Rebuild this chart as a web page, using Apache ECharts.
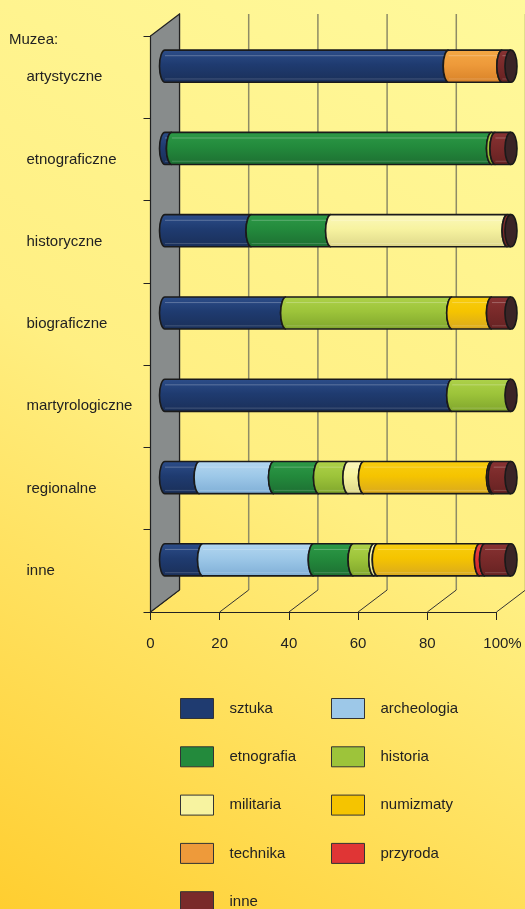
<!DOCTYPE html>
<html><head><meta charset="utf-8">
<script src="https://cdn.jsdelivr.net/npm/echarts@6/dist/echarts.min.js"></script>
<style>html,body{margin:0;padding:0;}#c{width:525px;height:909px;}</style>
</head><body><div id="c"></div>
<script>
const categories = ['artystyczne','etnograficzne','historyczne','biograficzne','martyrologiczne','regionalne','inne'];
const xTicks = [0, 20, 40, 60, 80, 100];
const sztuka      = [82,  2,    25, 35,   83, 10,   11];
const archeologia = [0,   0,    0,  0,    0,  21.5, 32];
const etnografia  = [0,   92.5, 23, 0,    0,  13,   11.5];
const historia    = [0,   1,    0,  48,   17, 8.5,  6];
const militaria   = [0,   0,    51, 0,    0,  4.5,  1];
const numizmaty   = [0,   0,    0,  11.5, 0,  37,   29.5];
const technika    = [15.5,0,    0,  0,    0,  0,    0];
const przyroda    = [0,   0,    0,  0,    0,  0.5,  1.5];
const inneS       = [2.5, 4.5,  1,  5.5,  0,  5,    7.5];

const seriesDefs = [
  {name:'sztuka', data:sztuka, color:'#1F3B70', light:'#2D4E8A', dark:'#1A2F58'},
  {name:'archeologia', data:archeologia, color:'#9DC8E8', light:'#B4D7F0', dark:'#7FAED6'},
  {name:'etnografia', data:etnografia, color:'#238A3C', light:'#2E9A48', dark:'#1D6E32'},
  {name:'historia', data:historia, color:'#9DC43A', light:'#AED24A', dark:'#7FA52C'},
  {name:'militaria', data:militaria, color:'#F7F3A0', light:'#FBF8BC', dark:'#DCD68A'},
  {name:'numizmaty', data:numizmaty, color:'#F5C400', light:'#F8CE10', dark:'#D8A820'},
  {name:'technika', data:technika, color:'#EE9A3A', light:'#F2A845', dark:'#D88228'},
  {name:'przyroda', data:przyroda, color:'#E03535', light:'#E84444', dark:'#C02828'},
  {name:'inne', data:inneS, color:'#7A2A2A', light:'#883333', dark:'#652222'}
];

const DX = 29, DY = -22;   // depth offset of the back plane (pixels)
const STROKE = '#1a1a1a';

const totals = categories.map(() => 0);
const series = [];

// side wall, back gridlines, floor lines
series.push({
  type: 'custom',
  coordinateSystem: 'cartesian2d',
  silent: true,
  z: 1,
  data: [[0, 0]],
  encode: {x: 0, y: 1},
  renderItem: function (params, api) {
    const cs = params.coordSys;
    const x = cs.x, y = cs.y, h = cs.height;
    const children = [];
    xTicks.forEach(v => {
      const px = api.coord([v, 0])[0];
      children.push({type:'line', shape:{x1:px+DX, y1:y+DY, x2:px+DX, y2:y+h+DY},
        style:{stroke:'#8E8C66', lineWidth:1.5}});
      children.push({type:'line', shape:{x1:px, y1:y+h, x2:px+DX, y2:y+h+DY},
        style:{stroke:'#333', lineWidth:1}});
    });
    children.push({type:'polygon', shape:{points:[[x,y],[x+DX,y+DY],[x+DX,y+h+DY],[x,y+h]]},
      style:{fill:'#888C8C', stroke:'#222', lineWidth:1.2}});
    return {type:'group', children: children};
  }
});

seriesDefs.forEach(def => {
  const d = def.data.map((v, i) => {
    const s = totals[i];
    totals[i] += v;
    return [s, s + v, i];
  });
  series.push({
    type: 'custom',
    name: def.name,
    coordinateSystem: 'cartesian2d',
    z: 3,
    itemStyle: {color: def.color},
    encode: {x: [0, 1], y: 2},
    data: d,
    renderItem: function (params, api) {
      const s = api.value(0), e = api.value(1), c = api.value(2);
      if (e - s <= 0) return null;
      const p0 = api.coord([s, c]), p1 = api.coord([e, c]);
      const band = api.size([0, 1])[1];
      const hh = band * 0.195;
      const cy = p0[1] + DY / 2;
      const x0 = p0[0] + DX / 2, x1 = p1[0] + DX / 2;
      const top = cy - hh, bot = cy + hh, rx = 5.5;
      const path = 'M' + x0 + ' ' + top + ' L' + x1 + ' ' + top +
        ' A' + rx + ' ' + hh + ' 0 0 0 ' + x1 + ' ' + bot +
        ' L' + x0 + ' ' + bot +
        ' A' + rx + ' ' + hh + ' 0 0 1 ' + x0 + ' ' + top + ' Z';
      const grad = new echarts.graphic.LinearGradient(0, 0, 0, 1, [
        {offset: 0, color: def.light},
        {offset: 0.45, color: def.color},
        {offset: 1, color: def.dark}
      ]);
      const children = [
        {type:'path', shape:{pathData: path}, style:{fill: grad, stroke: STROKE, lineWidth: 1.6}},
        {type:'line', shape:{x1:x0, y1:top + hh*0.35, x2:x1, y2:top + hh*0.35},
          style:{stroke:'rgba(255,255,255,0.25)', lineWidth:1}},
        {type:'line', shape:{x1:x0, y1:bot - hh*0.2, x2:x1, y2:bot - hh*0.2},
          style:{stroke:'rgba(255,255,255,0.18)', lineWidth:1}}
      ];
      if (e >= 99.999) {
        children.push({type:'ellipse', shape:{cx:x1, cy:cy, rx:rx + 0.5, ry:hh},
          style:{fill:'#3A2426', stroke:STROKE, lineWidth:1.6}});
      }
      return {type:'group', children: children};
    }
  });
});

const chart = echarts.init(document.getElementById('c'), null, {renderer: 'canvas'});
const legendBase = {
  orient: 'vertical', itemWidth: 33, itemHeight: 20, itemGap: 27.3, icon: 'rect',
  padding: 0, height: 300,
  itemStyle: {borderColor: '#333', borderWidth: 1},
  textStyle: {fontSize: 15, color: '#222', padding: [3, 0, 0, 11]},
  selectedMode: false
};
chart.setOption({
  backgroundColor: new echarts.graphic.LinearGradient(1, 0, 0, 1, [
    {offset: 0, color: '#FFF99C'},
    {offset: 0.5, color: '#FFEF82'},
    {offset: 1, color: '#FFCE30'}
  ]),
  textStyle: {fontFamily: 'Liberation Sans, Arial, sans-serif'},
  animation: false,
  title: {text: 'Muzea:', left: 4, top: 27,
    textStyle: {fontSize: 15, fontWeight: 'normal', color: '#222'}},
  legend: [
    Object.assign({}, legendBase, {left: 180, top: 698, data: ['sztuka','etnografia','militaria','technika','inne']}),
    Object.assign({}, legendBase, {left: 331, top: 698, data: ['archeologia','historia','numizmaty','przyroda']})
  ],
  grid: {left: 150.5, right: 28.5, top: 36, bottom: 297, containLabel: false},
  xAxis: {
    type: 'value', min: 0, max: 100, interval: 20,
    axisLine: {show: true, lineStyle: {color: '#222', width: 1}},
    axisTick: {show: true, length: 8, lineStyle: {color: '#222'}},
    splitLine: {show: false},
    axisLabel: {fontSize: 15, color: '#222', margin: 24,
      formatter: v => v === 100 ? '{p|100%}' : String(v),
      rich: {p: {fontSize: 15, color: '#222', padding: [0, 0, 0, 12]}}}
  },
  yAxis: {
    type: 'category', inverse: true, data: categories,
    axisLine: {show: true, lineStyle: {color: '#222', width: 1}},
    axisTick: {show: true, length: 7, lineStyle: {color: '#222'}},
    splitLine: {show: false},
    axisLabel: {fontSize: 15, color: '#222', align: 'left', margin: 124, padding: [4, 0, 0, 0]}
  },
  series: series
});
</script></body></html>
